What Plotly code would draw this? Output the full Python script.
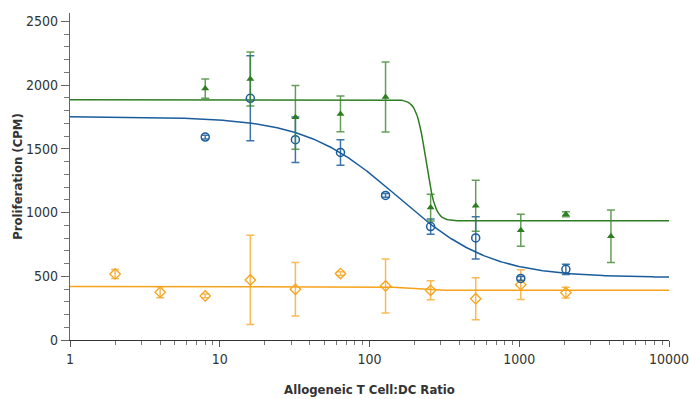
import numpy as np
import plotly.graph_objects as go

# ---- data ----
green_x = [8, 16, 32, 64, 128, 256, 512, 1024, 2048, 4096]
green_y = [1972, 2048, 1747, 1773, 1906, 1039, 1053, 861, 986, 814]
green_err = [75, 212, 250, 140, 275, 105, 200, 126, 20, 206]

blue_x = [8, 16, 32, 64, 128, 256, 512, 1024, 2048]
blue_y = [1592, 1896, 1571, 1471, 1134, 890, 801, 483, 554]
blue_err = [15, 334, 178, 100, 15, 60, 165, 15, 40]

orange_x = [2, 4, 8, 16, 32, 64, 128, 256, 512, 1024, 2048]
orange_y = [518, 375, 346, 471, 398, 521, 424, 390, 324, 434, 371]
orange_err = [35, 43, 15, 350, 210, 15, 212, 75, 165, 117, 42]

# 4-parameter logistic fit parameters (top, bottom, ec50, hill)
green_fit = (1885, 935, 238, 14)
blue_fit = (1752, 490, 155, 1.4)
orange_fit = (420, 390, 180, 6)

x_ticks = [1, 10, 100, 1000, 10000]
x_ticklabels = ["1", "10", "100", "1000", "10000"]

GREEN = "#2f7d22"
GREEN_E = "rgba(60,135,45,0.8)"
BLUE = "#1a5c9c"
BLUE_E = "rgba(26,92,156,0.85)"
ORANGE = "#f7a21b"
ORANGE_E = "rgba(247,162,27,0.75)"


def four_pl(x, p):
    top, bottom, c, n = p
    return bottom + (top - bottom) / (1 + (x / c) ** n)


xs = np.logspace(0, 4, 400)

fig = go.Figure()

for p, col in [(orange_fit, ORANGE), (blue_fit, BLUE), (green_fit, GREEN)]:
    fig.add_trace(go.Scatter(x=xs, y=four_pl(xs, p), mode="lines",
                             line=dict(color=col, width=1.5), hoverinfo="skip",
                             showlegend=False))

fig.add_trace(go.Scatter(
    x=orange_x, y=orange_y, mode="markers",
    marker=dict(symbol="diamond-open", size=8, color=ORANGE, line=dict(width=1.3)),
    error_y=dict(type="data", array=orange_err, color=ORANGE_E, thickness=1.5, width=4),
    showlegend=False))
fig.add_trace(go.Scatter(
    x=blue_x, y=blue_y, mode="markers",
    marker=dict(symbol="circle-open", size=8, color=BLUE, line=dict(width=1.5)),
    error_y=dict(type="data", array=blue_err, color=BLUE_E, thickness=1.5, width=4),
    showlegend=False))
fig.add_trace(go.Scatter(
    x=green_x, y=green_y, mode="markers",
    marker=dict(symbol="triangle-up", size=7, color=GREEN),
    error_y=dict(type="data", array=green_err, color=GREEN_E, thickness=1.5, width=4),
    showlegend=False))

FONT = "DejaVu Sans Condensed, Liberation Sans Narrow, sans-serif"

fig.update_layout(
    width=689, height=399,
    margin=dict(l=69.5, r=19.5, t=13, b=59, autoexpand=False),
    paper_bgcolor="white", plot_bgcolor="white",
    font=dict(family=FONT, size=14, color="#333333"),
    xaxis=dict(
        type="log", range=[0, 4], automargin=False,
        tickvals=x_ticks, ticktext=x_ticklabels,
        ticks="outside", ticklen=6, tickcolor="#555", tickwidth=1,
        ticklabeloverflow="allow",
        showline=True, linecolor="#333", linewidth=1.2,
        showgrid=False, zeroline=False,
        minor=dict(ticks="outside", ticklen=4, tickcolor="#777", dtick="D1", showgrid=False),
        title=dict(text="<b>Allogeneic T Cell:DC Ratio</b>", font=dict(size=13, family=FONT, color="#333"), standoff=18),
        tickfont=dict(size=14, family=FONT),
    ),
    yaxis=dict(
        range=[0, 2565], dtick=500, tick0=0, automargin=False,
        ticks="outside", ticklen=8, tickcolor="#666", tickwidth=1,
        showline=True, linecolor="#666", linewidth=1.2,
        showgrid=False, zeroline=False,
        minor=dict(ticks="outside", ticklen=5, tickcolor="#777", dtick=100, showgrid=False),
        title=dict(text="<b>Proliferation (CPM)</b>", font=dict(size=13, family=FONT, color="#333"), standoff=0),
        tickfont=dict(size=14, family=FONT),
    ),
)

fig.write_html("out.html", config={"displayModeBar": False},
               post_script="document.body.style.margin='0';document.body.style.overflow='hidden';")
